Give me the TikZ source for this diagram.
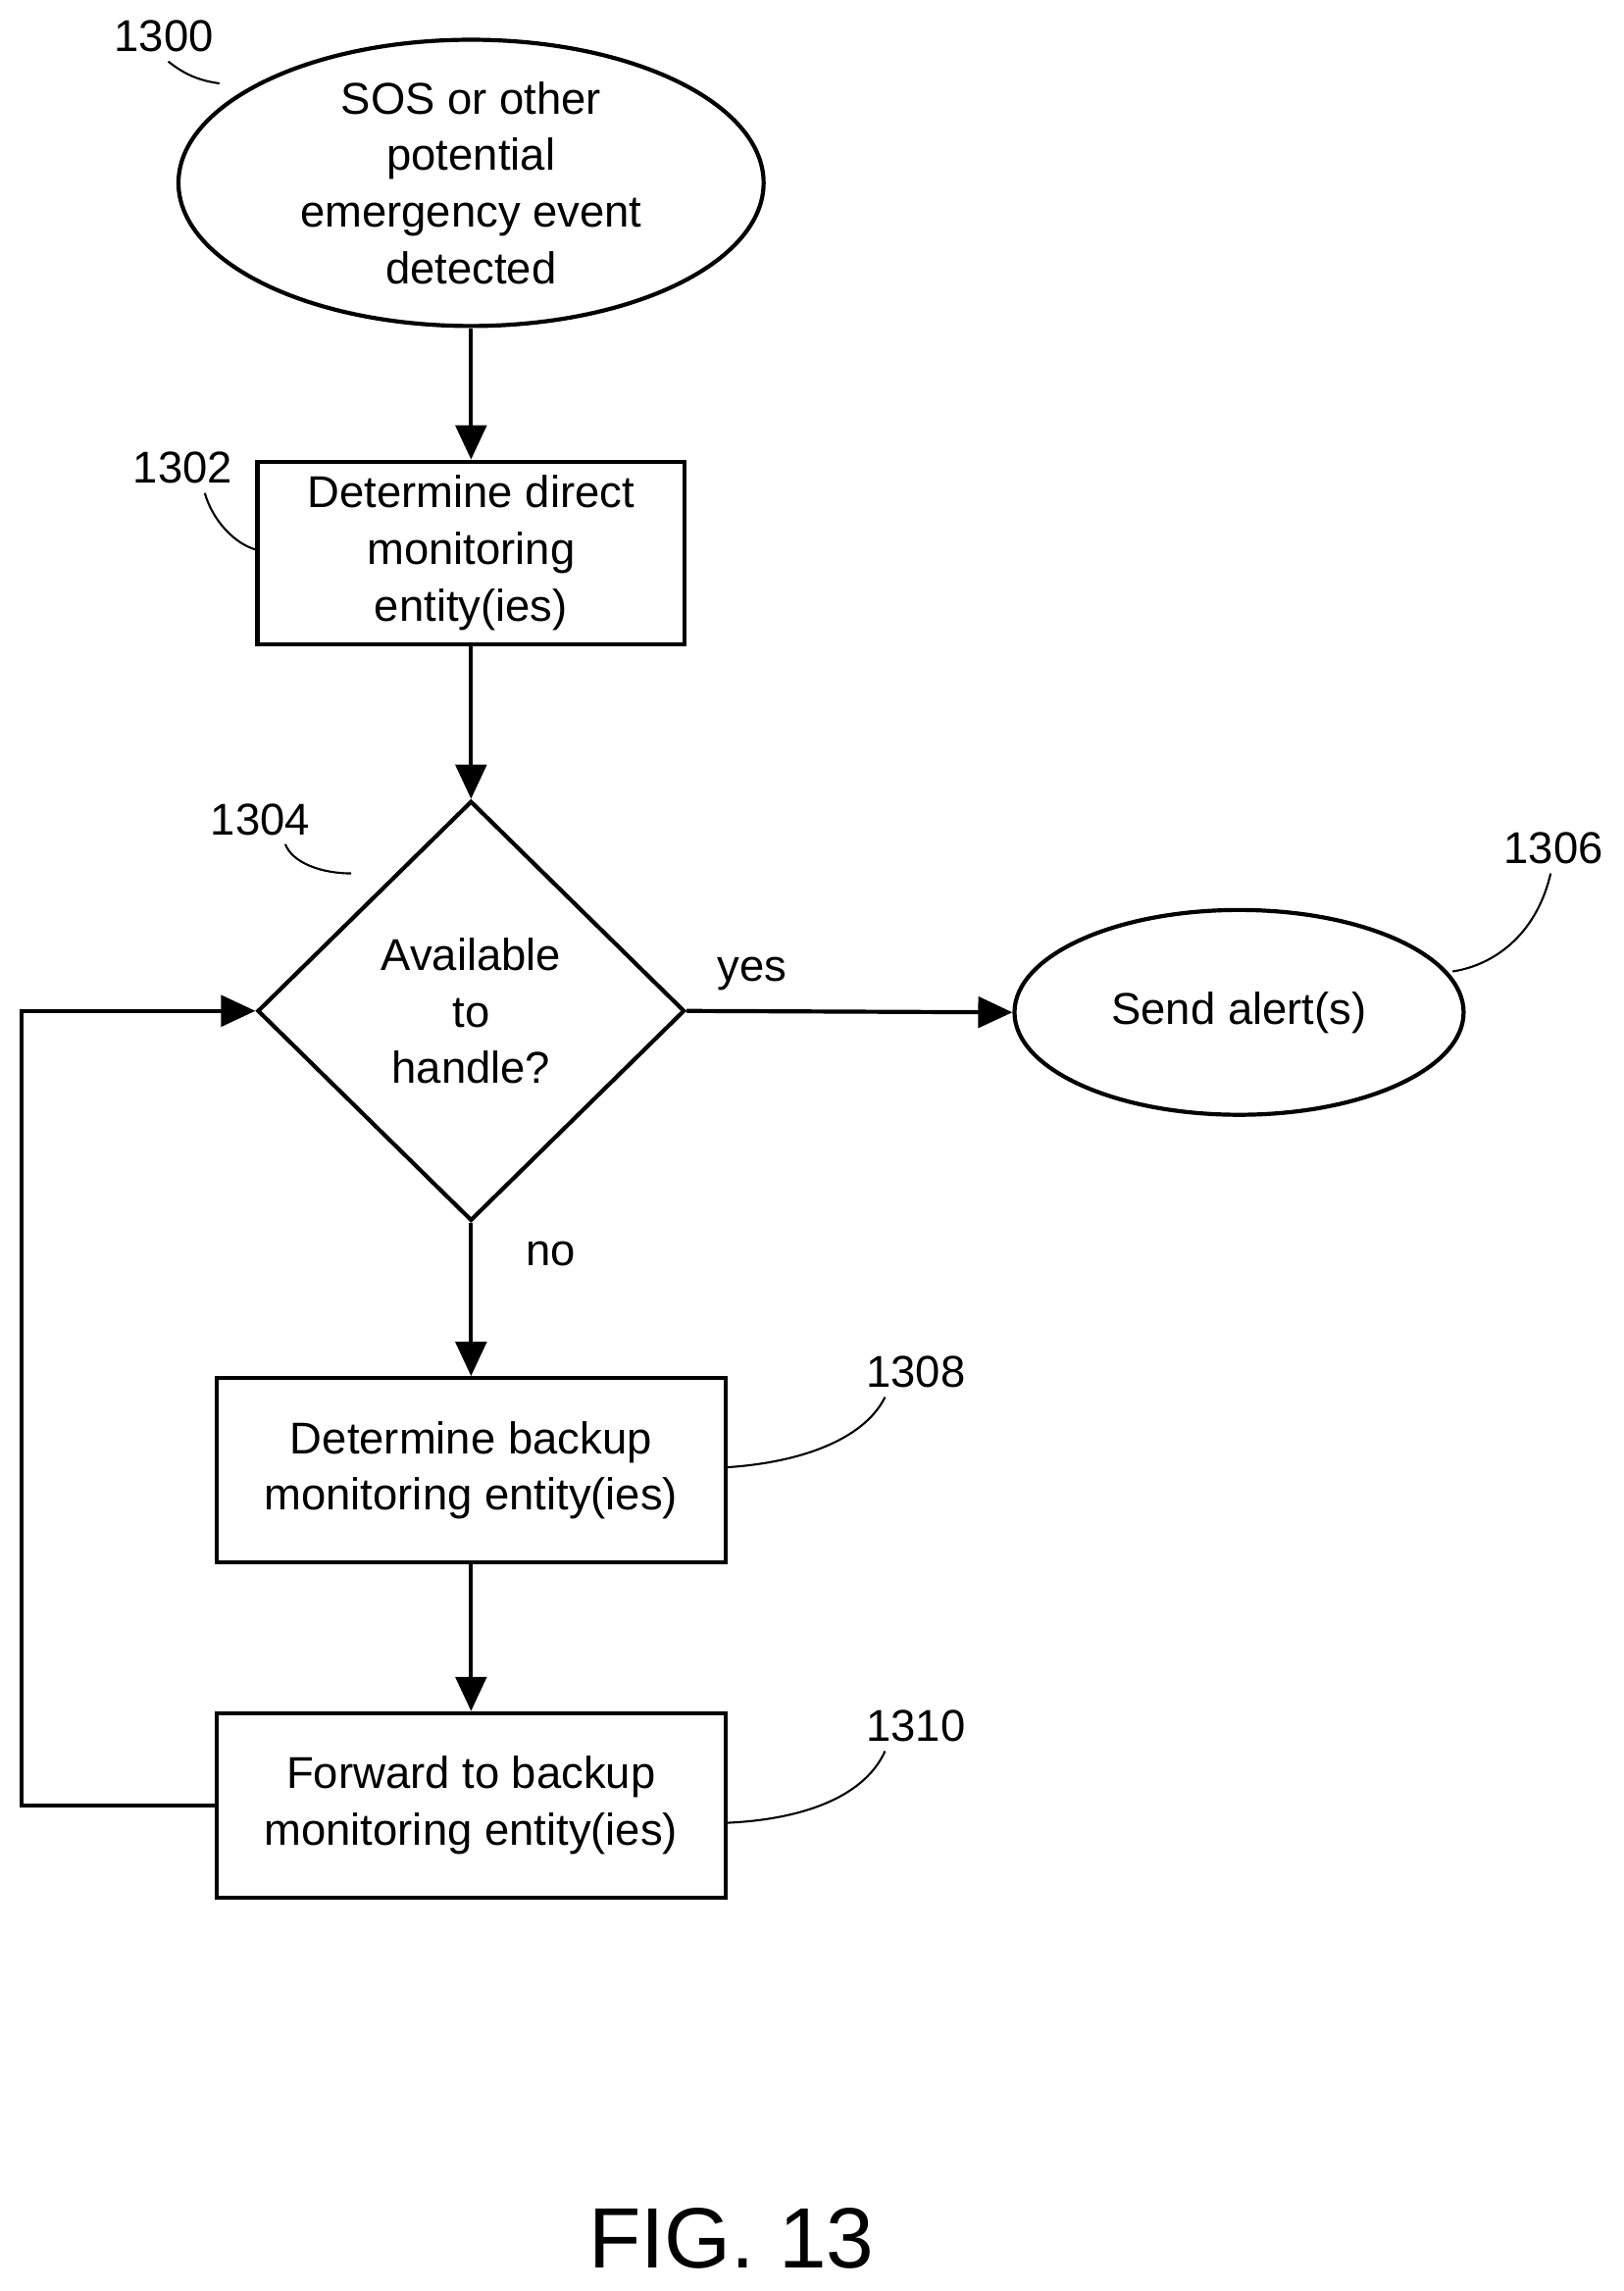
\documentclass[tikz,border=0pt]{standalone}
\usepackage{fontspec}
\setmainfont{Liberation Sans}
\usetikzlibrary{positioning,shapes.geometric,arrows.meta}

\begin{document}
\begin{tikzpicture}[
x=0.015cm,y=-0.015cm,
line width=1.2pt,
every node/.style={font=\fontsize{13}{16.5}\selectfont,align=center},
term/.style={draw,ellipse,inner sep=0pt},
box/.style={draw,rectangle,inner sep=0pt},
ref/.style={font=\fontsize{13}{15}\selectfont},
leader/.style={line width=0.6pt},
flow/.style={-{Triangle[length=10pt,width=9pt]}},
]
\useasboundingbox (0,0) rectangle (1110,1566);

\node[term,minimum width=400*0.015cm,minimum height=190*0.015cm] (start) at (322,125)
  {SOS or other\\potential\\emergency event\\detected};
\node[box,minimum width=292*0.015cm,minimum height=125*0.015cm] (direct) at (322,378)
  {Determine direct\\monitoring\\entity(ies)};
\node[draw,diamond,inner sep=0pt,minimum width=292*0.015cm,minimum height=287*0.015cm] (avail) at (322,691)
  {Available\\to\\handle?};
\node[term,minimum width=307*0.015cm,minimum height=140*0.015cm] (alert) at (847,692)
  {Send alert(s)};
\node[box,minimum width=348*0.015cm,minimum height=126*0.015cm] (backup) at (322,1005)
  {Determine backup\\monitoring entity(ies)};
\node[box,minimum width=348*0.015cm,minimum height=126*0.015cm] (fwd) at (322,1234)
  {Forward to backup\\monitoring entity(ies)};
\coordinate (bend1) at (15,1234);
\coordinate (bend2) at (15,691);

\draw[flow] (start) -- (direct);
\draw[flow] (direct) -- (avail);
\draw[flow] (avail.east) -- node[above=2pt,pos=0.2] {yes} (alert.west);
\draw[flow] (avail.south) -- node[right=12pt,pos=0.2] {no} (backup.north);
\draw[flow] (backup) -- (fwd);
\draw[flow] (fwd.west) -- (bend1) -- (bend2) -- (avail.west);

% reference numerals
\node[ref] (r1300) at (112,25) {1300};
\node[ref] (r1302) at (125,320) {1302};
\node[ref] (r1304) at (178,560) {1304};
\node[ref] (r1306) at (1062,580) {1306};
\node[ref] (r1308) at (626,938) {1308};
\node[ref] (r1310) at (626,1180) {1310};
\draw[leader] (115,42) .. controls (125,50) and (135,55) .. (150,57);
\draw[leader] (140,337) .. controls (145,355) and (160,372) .. (176,376);
\draw[leader] (195,577) .. controls (200,590) and (220,597) .. (240,597);
\draw[leader] (1060,597) .. controls (1050,640) and (1020,660) .. (993,664);
\draw[leader] (605,955) .. controls (590,985) and (545,1000) .. (496,1003);
\draw[leader] (605,1197) .. controls (590,1230) and (545,1244) .. (496,1246);

\node[font=\fontsize{25}{28}\selectfont] (fig) at (500,1530) {FIG. 13};
\end{tikzpicture}
\end{document}
